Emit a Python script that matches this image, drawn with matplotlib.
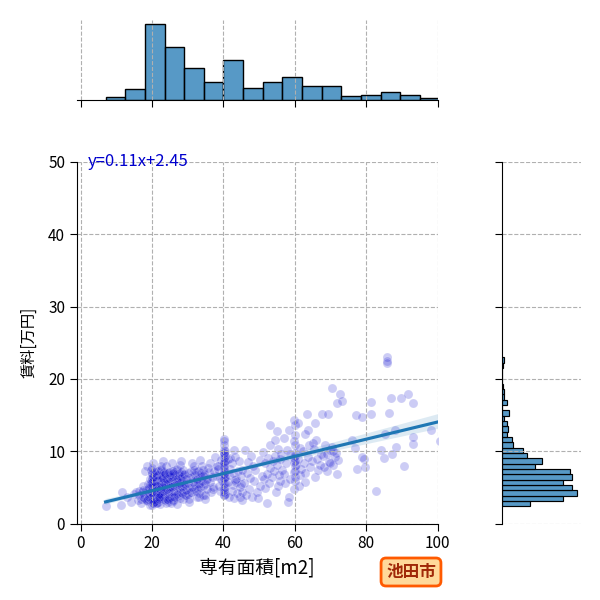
import matplotlib
matplotlib.use("Agg")
import matplotlib.pyplot as plt
import seaborn as sns

# 池田市の賃貸物件: 専有面積 [m2] と 賃料 [万円]
area = [
    7.0, 11.2, 11.6,
    13.0, 14.2, 15.0, 15.5, 16.0, 16.3, 16.5, 16.8, 17.0, 17.2, 17.4, 17.5, 17.6, 17.8, 17.9,
    19.5, 20.0, 20.3, 21.0, 21.8, 22.3, 18.6, 23.0,
    18.2, 18.6, 19.0, 19.4, 19.8, 20.0, 20.0, 20.2, 20.5, 20.9, 21.2, 21.5, 21.9, 22.1, 22.4, 22.7, 23.0, 23.2, 19.1, 20.1,
    18.1, 18.5, 18.9, 19.3, 19.7, 20.0, 20.0, 20.2, 20.4, 20.6, 20.9, 21.1, 21.4, 21.7, 22.0, 22.3, 22.6, 22.9, 23.2, 23.4, 19.9, 21.0, 22.2,
    18.3, 18.8, 19.2, 19.6, 20.0, 20.0, 20.3, 20.6, 20.8, 21.2, 21.5, 21.8, 22.0, 22.3, 22.5, 22.8, 23.1, 23.3, 19.9, 21.0,
    18.9, 19.5, 20.0, 20.0, 20.3, 20.7, 21.1, 21.5, 21.9, 22.2, 22.6, 23.0, 23.3, 19.8, 20.9,
    19.4, 20.0, 20.0, 20.4, 20.8, 21.3, 21.7, 22.0, 22.4, 22.8, 23.2, 20.2, 21.5, 22.9,
    20.0, 20.0, 20.5, 21.2, 21.8, 22.5, 23.0, 23.3, 19.6,
    20.0, 22.6, 20.2,
    23.8, 24.5, 25.2, 26.0,
    23.7, 24.2, 24.8, 25.3, 25.9, 26.5, 27.2, 27.9, 28.6,
    23.6, 24.0, 24.4, 24.9, 25.4, 25.8, 26.3, 26.9, 27.4, 27.8, 28.3, 28.8,
    23.9, 24.3, 24.7, 25.1, 25.6, 26.1, 26.6, 27.0, 27.5, 28.0, 28.4, 28.9,
    23.6, 24.1, 24.6, 25.0, 25.5, 26.2, 26.8, 27.3, 27.9, 28.5, 28.8,
    23.8, 24.2, 24.7, 25.2, 25.7, 26.0, 26.4, 26.9, 27.3, 27.7, 28.1, 28.5, 28.9, 25.0,
    23.7, 24.4, 24.9, 25.5, 26.0, 26.6, 27.1, 27.6, 28.2, 28.7, 25.8,
    24.5, 26.2, 27.8, 25.5, 28.0,
    30.5, 33.2, 29.4, 30.8, 31.9, 32.8, 34.0,
    29.2, 30.1, 31.0, 32.2, 33.3, 34.3, 29.6, 30.4, 31.3, 32.0, 32.9, 33.6, 34.4,
    29.3, 30.2, 31.4, 32.5, 33.1, 34.1, 29.5, 30.6, 31.2, 32.1, 32.7, 33.5, 34.2,
    29.1, 30.0, 30.9, 31.7, 32.4, 33.0, 33.8, 34.4,
    30.3, 31.8, 33.9, 31.1, 33.4, 32.6,
    37.2, 35.1, 38.4, 34.8, 36.5, 39.0, 35.5, 37.0, 38.8, 34.9, 36.2, 39.5, 35.3,
    36.8, 37.9, 39.2, 34.7, 36.0, 37.5, 38.6, 35.8, 38.1, 36.4, 39.4, 37.7, 35.0,
    40.2, 43.5, 40.1, 40.3, 41.8, 44.6, 40.2, 40.4, 40.1, 42.3, 43.9, 45.2,
    40.1, 40.3, 40.5, 42.7, 44.8, 40.2, 40.4, 41.3, 43.2, 45.0,
    40.1, 40.3, 40.5, 41.6, 43.6, 44.9, 40.2, 40.4, 40.1, 41.9, 42.8, 44.2, 45.3,
    40.3, 40.2, 43.0, 40.1, 40.3, 40.5, 41.2, 42.5, 44.5,
    40.2, 40.4, 40.1, 40.3, 43.4, 45.1, 40.2, 40.4, 40.1, 41.5, 42.9, 40.3, 40.2, 40.1,
    48.0, 46.3, 49.5, 47.1, 50.2, 45.9, 48.6, 47.6, 50.7,
    46.5, 49.0, 48.2, 46.9, 50.4, 47.8, 49.8, 46.2,
    52.3, 54.8, 51.6, 55.3, 52.8, 56.0, 51.4, 53.5, 55.7, 52.1, 54.2, 56.3, 53.0,
    55.0, 51.8, 53.8, 55.9, 52.6, 54.5, 56.2, 51.2, 55.4, 53.2, 54.6, 55.0, 53.1,
    58.0, 59.9, 61.2, 57.4, 60.1, 58.6, 60.0, 61.5, 57.1, 59.8, 60.2, 61.8,
    58.3, 60.0, 60.3, 57.6, 59.7, 60.1, 61.0, 59.9, 60.2, 58.8, 60.0, 57.8, 61.4,
    60.1, 59.8, 56.9, 60.2, 58.3, 60.0, 60.8, 59.9,
    63.0, 65.8, 62.8, 66.5, 64.2, 67.0, 62.5, 64.9, 66.2, 63.6,
    67.3, 62.3, 65.3, 64.0, 66.0, 63.0, 63.6, 65.7, 63.3, 65.0,
    71.8, 69.0, 68.2, 70.6, 69.5, 72.0, 68.0, 71.2, 69.8, 68.6,
    71.5, 69.0, 70.4, 67.7, 69.4, 71.9, 70.0, 70.5, 70.6, 72.8,
    73.3, 77.2, 77.5, 77.0, 76.1,
    78.8, 81.5, 81.5, 79.4, 79.8, 78.9, 82.9,
    87.1, 88.0, 86.3, 85.2, 88.5, 85.0, 87.3, 84.3, 85.9, 85.9, 85.9,
    89.9, 91.8, 93.2, 93.2, 93.2, 90.6, 98.3, 100.6,
]
rent = [
    2.4, 2.5, 4.4,
    3.6, 3.0, 4.1, 4.3, 3.2, 3.9, 4.5, 3.4, 2.9, 4.4, 3.7, 5.2, 4.6, 3.5, 4.0,
    2.5, 2.6, 2.8, 2.9, 3.0, 2.7, 3.05, 8.6,
    3.2, 3.3, 3.4, 3.5, 3.6, 3.7, 3.8, 3.2, 3.4, 3.5, 3.6, 3.3, 3.7, 3.5, 7.6, 3.8, 3.4, 3.6, 3.7, 3.3,
    7.2, 7.9, 4.1, 4.2, 4.3, 4.4, 4.5, 3.95, 2.9, 3.0, 4.25, 4.35, 4.45, 4.0, 4.2, 4.3, 4.1, 4.4, 4.5, 4.0, 4.2, 4.3, 4.1,
    4.7, 4.8, 4.9, 5.0, 5.1, 5.2, 5.3, 4.7, 4.85, 4.95, 5.05, 5.15, 5.25, 4.8, 5.0, 5.2, 4.9, 5.1, 4.75, 5.3,
    5.4, 5.5, 5.6, 5.7, 5.8, 5.9, 6.0, 2.8, 3.4, 5.85, 5.5, 5.75, 5.95, 5.6, 5.8,
    6.1, 6.2, 6.3, 6.4, 6.5, 6.6, 6.7, 3.6, 6.35, 6.55, 6.25, 6.45, 6.65, 6.3,
    6.9, 7.0, 7.1, 7.2, 7.3, 7.4, 6.95, 7.15, 7.35,
    7.7, 8.0, 8.3,
    2.9, 3.0, 2.8, 3.05,
    3.2, 3.4, 3.5, 3.7, 3.3, 3.6, 3.8, 3.5, 3.4,
    7.0, 8.0, 4.1, 4.2, 4.3, 4.4, 4.5, 4.05, 4.25, 4.35, 4.15, 4.45,
    4.7, 4.8, 4.9, 5.0, 5.1, 5.2, 5.3, 2.7, 4.95, 5.15, 5.05, 5.25,
    5.4, 5.5, 5.6, 5.7, 5.8, 5.9, 6.0, 5.45, 5.65, 5.85, 5.55,
    6.1, 6.2, 6.3, 6.4, 6.5, 6.6, 6.7, 6.15, 6.35, 6.55, 6.25, 6.45, 6.65, 6.75,
    6.9, 7.0, 7.1, 7.2, 7.3, 7.4, 7.5, 6.95, 7.15, 7.35, 7.05,
    3.3, 3.6, 8.1, 8.4, 8.7,
    3.0, 3.6, 4.0, 4.4, 4.8, 5.6, 6.4,
    3.9, 4.1, 4.3, 4.5, 4.2, 4.0, 4.7, 4.9, 5.1, 5.3, 4.8, 5.0, 5.2,
    5.4, 5.6, 5.8, 6.0, 5.5, 5.9, 6.1, 6.3, 6.5, 6.7, 6.2, 6.4, 6.6,
    6.9, 7.0, 7.2, 7.4, 7.1, 7.3, 6.95, 7.45,
    3.4, 8.0, 7.9, 8.4, 8.8, 3.6,
    4.8, 6.0, 7.9, 4.0, 4.3, 4.5, 4.8, 5.0, 5.2, 5.5, 5.7, 5.9, 6.2,
    6.4, 6.6, 6.3, 6.9, 7.1, 7.3, 7.5, 7.7, 8.0, 8.4, 8.8, 9.2, 3.4,
    4.0, 5.8, 6.8, 8.2, 9.0, 3.6, 3.9, 4.1, 4.3, 4.5, 4.2, 4.4,
    4.7, 4.9, 5.1, 5.3, 5.0, 5.4, 5.6, 5.8, 6.0, 5.5,
    6.1, 6.3, 6.5, 6.7, 6.2, 6.6, 6.9, 7.1, 7.3, 7.5, 7.0, 7.2, 7.4,
    7.7, 8.0, 3.5, 8.3, 8.5, 8.7, 8.9, 8.4, 8.6,
    9.1, 9.3, 9.5, 9.7, 9.2, 3.3, 9.8, 10.0, 10.2, 3.7, 10.1, 10.8, 11.4, 11.7,
    3.6, 4.0, 4.4, 4.8, 5.2, 5.6, 5.9, 6.3, 6.6,
    7.0, 7.4, 7.9, 8.5, 8.8, 9.3, 3.5, 10.2,
    2.9, 4.3, 4.9, 5.2, 5.6, 5.9, 6.2, 6.5, 6.7, 6.9, 7.2, 7.4, 7.7,
    8.1, 8.4, 8.6, 8.9, 9.1, 9.4, 9.6, 9.9, 10.3, 10.8, 11.5, 12.8, 13.6,
    3.0, 4.8, 5.2, 5.6, 5.9, 6.2, 6.4, 6.7, 6.9, 7.1, 7.3, 7.5,
    3.7, 7.9, 8.1, 8.3, 8.5, 8.7, 8.9, 9.1, 9.4, 9.6, 9.8, 10.1, 10.4,
    10.8, 11.4, 11.8, 12.3, 13.0, 13.6, 13.9, 14.3,
    5.7, 6.4, 7.0, 7.4, 7.8, 8.1, 8.4, 8.7, 8.9, 9.2,
    9.6, 10.0, 10.3, 10.8, 11.6, 12.4, 12.9, 13.9, 15.1, 11.2,
    6.9, 7.3, 7.8, 8.1, 8.5, 8.8, 9.4, 9.2, 10.1, 10.9,
    9.8, 9.6, 10.6, 15.1, 15.2, 16.7, 8.3, 18.7, 10.0, 17.9,
    16.9, 15.0, 7.6, 10.4, 11.5,
    14.7, 16.8, 15.1, 8.9, 7.8, 9.2, 4.5,
    17.3, 13.0, 15.3, 12.4, 10.6, 9.0, 9.6, 10.2, 23.0, 22.5, 22.2,
    17.3, 17.9, 16.7, 11.0, 12.0, 8.0, 12.9, 11.4,
]
eq_label = "y=0.11x+2.45"
city = "池田市"

plt.rcParams['font.family'] = ['Noto Sans CJK JP', 'DejaVu Sans']
plt.rcParams['font.size'] = 11

fig = plt.figure(figsize=(6, 6), dpi=100)
ax = fig.add_axes([77 / 600, 76.5 / 600, 360.5 / 600, 361.5 / 600])
ax_top = fig.add_axes([77 / 600, 500.5 / 600, 360.5 / 600, 79.5 / 600], sharex=ax)
ax_right = fig.add_axes([501.5 / 600, 76.5 / 600, 79 / 600, 361.5 / 600], sharey=ax)

sns.scatterplot(x=area, y=rent, ax=ax, color='mediumblue', alpha=0.2, s=42)
sns.regplot(x=area, y=rent, ax=ax, scatter=False, color='#1f77b4')
sns.histplot(x=area, ax=ax_top, bins=17)
sns.histplot(y=rent, ax=ax_right, bins=28)

grid_kw = dict(linestyle='--', color='#b0b0b0', linewidth=0.8)
ax.grid(**grid_kw)
ax_top.grid(axis='x', **grid_kw)
ax_right.grid(axis='y', **grid_kw)

ax.set_xlim(-1, 100)
ax.set_ylim(0, 50)
ax.set_xticks([0, 20, 40, 60, 80, 100])
ax.set_yticks([0, 10, 20, 30, 40, 50])
ax.tick_params(length=5, labelsize=11)
ax.set_xlabel("専有面積[m2]", fontsize=13.5)
ax.set_ylabel("賃料[万円]", fontsize=11, labelpad=8)
for s in ['top', 'right']:
    ax.spines[s].set_visible(False)

ax_top.set_ylabel('')
ax_top.tick_params(axis='x', labelbottom=False, length=5)
ax_top.tick_params(axis='y', left=False, labelleft=False)
for s in ['top', 'right', 'left']:
    ax_top.spines[s].set_visible(False)

ax_right.set_xlabel('')
ax_right.tick_params(axis='y', labelleft=False, length=5)
ax_right.tick_params(axis='x', bottom=False, labelbottom=False)
for s in ['top', 'right', 'bottom']:
    ax_right.spines[s].set_visible(False)

ax.text(2, 50, eq_label, color='mediumblue', fontsize=12, va='center', ha='left')

fig.text(411 / 600, 1 - 572 / 600, city, ha='center', va='center',
         fontsize=12, fontweight='bold', color='#a02808',
         bbox=dict(boxstyle='round,pad=0.3', facecolor='#ffd99a', edgecolor='#ff5a00', linewidth=2))

fig.savefig('out.png', dpi=100)
